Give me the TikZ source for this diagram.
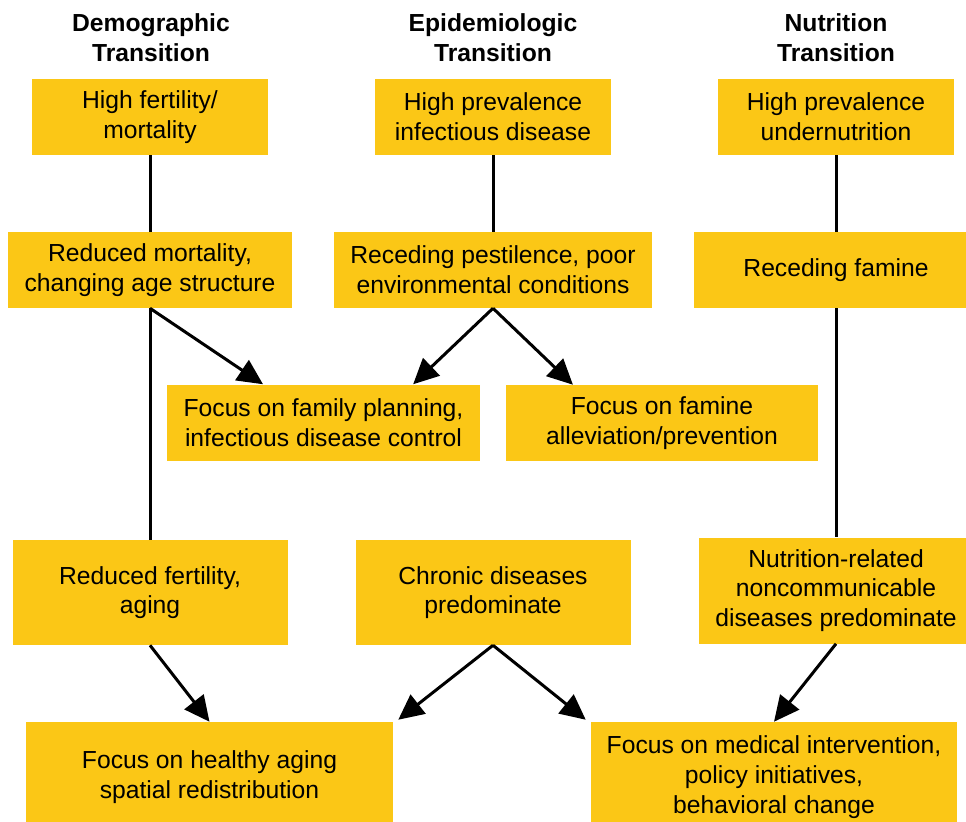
\documentclass[tikz,border=0pt]{standalone}
\usepackage{fontspec}
\setmainfont{Liberation Sans}
\usetikzlibrary{arrows.meta,calc}
\definecolor{boxyellow}{RGB}{251,199,22}

\begin{document}
\begin{tikzpicture}[x=0.75pt, y=-0.75pt,
  box/.style 2 args = {fill=boxyellow, minimum width=#1*0.75pt, minimum height=#2*0.75pt, inner sep=0pt, align=center, font=\fontsize{18.5}{22.3}\selectfont},
  head/.style = {align=center, font=\fontsize{18.5}{22.3}\selectfont\bfseries},
  link/.style = {line width=2.25pt},
  arr/.style = {line width=2.25pt, -{Triangle[length=19pt, width=18pt]}}]

\useasboundingbox (0,0) rectangle (966,821);

% Headers
\node[head] (demhead) at (151,38) {Demographic\\Transition};
\node[head] (epihead) at (493,38) {Epidemiologic\\Transition};
\node[head] (nuthead) at (836,38) {Nutrition\\Transition};

% Top row
\node[box={236}{76}] (dem1) at (150,117) {High fertility/\\mortality};
\node[box={236}{76}] (epi1) at (493,117) {High prevalence\\infectious disease};
\node[box={236}{76}] (nut1) at (836,117) {High prevalence\\undernutrition};

% Second row
\node[box={284}{76}] (dem2) at (150,270) {Reduced mortality,\\changing age structure};
\node[box={318}{76}] (epi2) at (493,270) {Receding pestilence, poor\\environmental conditions};
\node[box={284}{76}] (nut2) at (836,270) {Receding famine};

% First focus row
\node[box={313}{76}] (focus1) at (323.5,422.5) {Focus on family planning,\\infectious disease control};
\node[box={312}{76}] (focus2) at (662,423) {Focus on famine\\alleviation/prevention};

% Third row
\node[box={275}{105}] (dem3) at (150,592.5) {Reduced fertility,\\aging};
\node[box={275}{105}] (epi3) at (493,592.5) {Chronic diseases\\predominate};
\node[box={274}{106}] (nut3) at (836,590.5) {Nutrition-related\\noncommunicable\\diseases predominate};

% Last focus row
\node[box={367}{110}] (focus3) at (209.5,777) {Focus on healthy aging\\spatial redistribution};
\node[box={366}{110}] (focus4) at (774,777) {Focus on medical intervention,\\policy initiatives,\\behavioral change};

% Lines
\draw[link] (dem1.south) -- (dem2.north);
\draw[link] (epi1.south) -- (epi2.north);
\draw[link] (nut1.south) -- (nut2.north);
\draw[link] (dem2.south) -- (dem3.north);
\draw[link] (nut2.south) -- (nut3.north);

% Arrows
\draw[arr] (dem2.south) -- ($(focus1.north west)!0.307!(focus1.north east)$);
\draw[arr] (epi2.south) -- ($(focus1.north west)!0.786!(focus1.north east)$);
\draw[arr] (epi2.south) -- ($(focus2.north west)!0.215!(focus2.north east)$);
\draw[arr] (dem3.south) -- (focus3.north);
\draw[arr] (epi3.south) -- ($(focus3.north east)+(5,-2)$);
\draw[arr] (epi3.south) -- ($(focus4.north west)+(-5,-2)$);
\draw[arr] (nut3.south) -- (focus4.north);

\end{tikzpicture}
\end{document}
